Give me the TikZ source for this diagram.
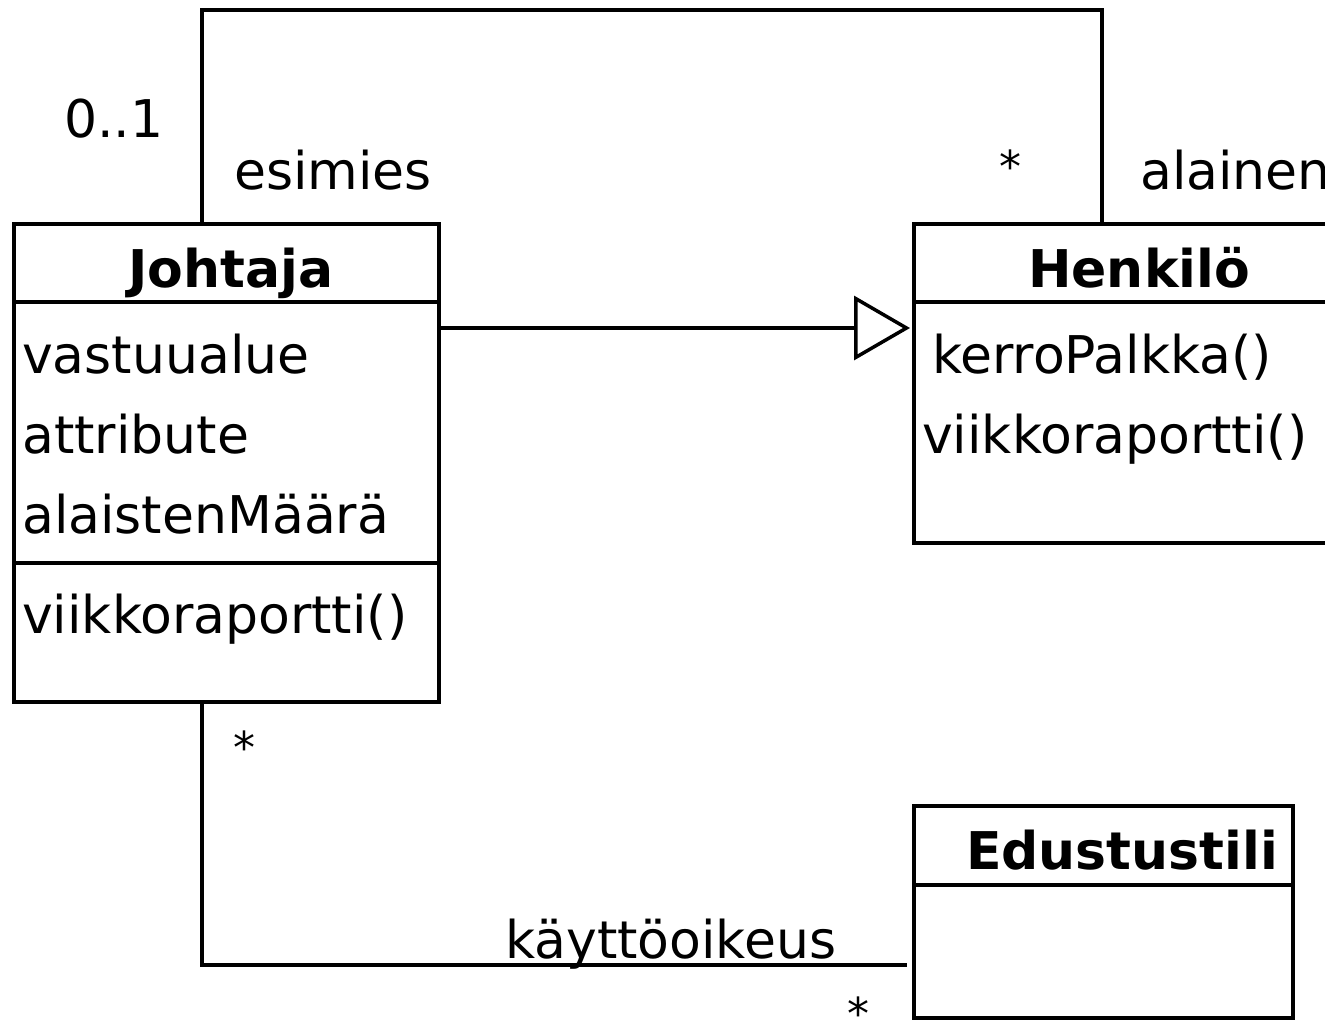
\documentclass[tikz,border=0pt]{standalone}
\usepackage{fontspec}
\setmainfont{DejaVu Sans}
\usetikzlibrary{arrows.meta,calc}
\begin{document}
\begin{tikzpicture}[x=1pt,y=-1pt,
  umlbox/.style={draw, line width=4pt, rectangle, inner sep=0pt, anchor=north west},
  txt/.style={inner sep=0pt, anchor=base west, font=\fontsize{52}{62}\selectfont},
  mult/.style={inner sep=0pt, anchor=base west, font=\fontsize{44}{52}\selectfont},
  title/.style={inner sep=0pt, anchor=base west, font=\fontsize{52}{62}\selectfont\bfseries},
  conn/.style={draw, line width=4pt},
  inherit/.style={conn, -{Triangle[open, length=56pt, width=64pt, line width=3.5pt]}}
]
\useasboundingbox (0,0) rectangle (1325,1021);

% class boxes
\node[umlbox, minimum width=425pt, minimum height=478pt] (johtaja) at (12,222) {};
\node[umlbox, minimum width=452pt, minimum height=319pt] (henkilo) at (912,222) {};
\node[umlbox, minimum width=379pt, minimum height=212pt] (edustus) at (912,804) {};

% compartment separators
\draw[conn] ($(johtaja.north west)+(0,80)$) -- ($(johtaja.north east)+(0,80)$);
\draw[conn] ($(johtaja.north west)+(0,341)$) -- ($(johtaja.north east)+(0,341)$);
\draw[conn] ($(henkilo.north west)+(0,80)$) -- ($(henkilo.north east)+(0,80)$);
\draw[conn] ($(edustus.north west)+(0,81)$) -- ($(edustus.north east)+(0,81)$);

% class contents
\node[title] (jname) at (128,287) {Johtaja};
\node[txt] (ja1) at (22,373) {vastuualue};
\node[txt] (ja2) at (22,453) {attribute};
\node[txt] (ja3) at (22,533) {alaistenMäärä};
\node[txt] (jo1) at (22,633) {viikkoraportti()};

\node[title] (hname) at (1028,287) {Henkilö};
\node[txt] (ho1) at (932,373) {kerroPalkka()};
\node[txt] (ho2) at (922,453) {viikkoraportti()};

\node[title] (ename) at (966,869) {Edustustili};

% generalization
\draw[inherit] ($(johtaja.north east)+(0,106)$) -- ($(henkilo.north west)+(-2,106)$);

% esimies / alainen association
\draw[conn] ($(johtaja.north west)+(190,0)$) -- ++(0,-212) -| ($(henkilo.north west)+(190,0)$);
\node[txt] (m01) at (64,137) {0..1};
\node[txt] (resim) at (234,189) {esimies};
\node[mult] (mal) at (999,182) {*};
\node[txt] (ral) at (1140,189) {alainen};

% kayttooikeus association
\draw[conn] ($(johtaja.south west)+(190,0)$) |- ($(edustus.north west)+(-5,161)$);
\node[mult] (mj) at (233,763) {*};
\node[txt] (rka) at (505,958) {käyttöoikeus};
\node[mult] (me) at (847,1029) {*};
\end{tikzpicture}
\end{document}
